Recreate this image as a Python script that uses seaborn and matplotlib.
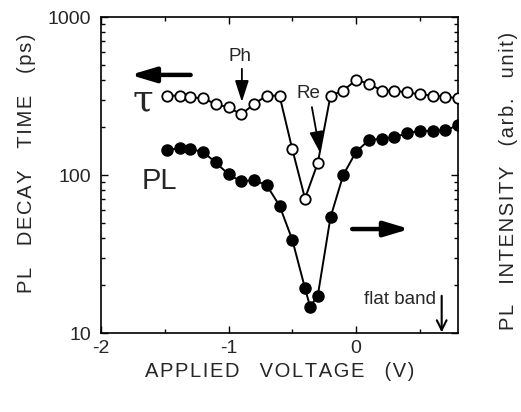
import matplotlib
matplotlib.use("Agg")
import matplotlib.pyplot as plt
import seaborn as sns
import numpy as np
import pandas as pd
from matplotlib.ticker import FixedLocator, LogLocator, NullFormatter

# ---- data ----
volt_tau = [-1.48, -1.38, -1.3, -1.2, -1.1, -1.0, -0.9, -0.8, -0.7, -0.6, -0.5, -0.4,
            -0.3, -0.2, -0.1, 0.0, 0.1, 0.2, 0.3, 0.4, 0.5, 0.6, 0.7, 0.8]
tau_ps = [318, 318, 310, 306, 281, 268, 242, 281, 318, 318, 146, 71,
          119, 318, 342, 399, 379, 342, 342, 333, 324, 318, 313, 306]

volt_pl = [-1.48, -1.38, -1.3, -1.2, -1.1, -1.0, -0.9, -0.8, -0.7, -0.6, -0.5, -0.4, -0.36,
           -0.3, -0.2, -0.1, 0.0, 0.1, 0.2, 0.3, 0.4, 0.5, 0.6, 0.7, 0.8]
pl_int = [143, 149, 146, 140, 120, 101, 91, 93, 86, 64, 39, 19.2, 14.7,
          17.2, 54, 100, 140, 166, 170, 173, 184, 190, 190, 192, 206]

x_major = [-2, -1, 0]
x_ticklabels = ["-2", "-1", "0"]
x_minor = [-1.5, -0.5, 0.5]
y_ticks = [10, 100, 1000]
y_ticklabels = ["10", "100", "1000"]

x_title = "APPLIED VOLTAGE (V)"
y_title = "PL DECAY TIME (ps)"
y2_title = "PL INTENSITY (arb. unit)"


def tracked(s, gap="\u200a", word="\u2003"):
    """Slightly letter-spaced text, as in the original figure."""
    return word.join(gap.join(w) for w in s.split(" "))


sns.set_style("ticks")
plt.rcParams['font.family'] = ['Liberation Sans', 'DejaVu Sans']

fig = plt.figure(figsize=(5.21, 4.12), dpi=100)
ax = fig.add_axes([101/521, 1-333/412, (458-101)/521, (333-17)/412])

df_tau = pd.DataFrame({"V": volt_tau, "val": tau_ps})
df_pl = pd.DataFrame({"V": volt_pl, "val": pl_int})

sns.lineplot(data=df_pl, x="V", y="val", ax=ax, color="black", lw=1.4,
             marker="o", markersize=8, markerfacecolor="black",
             markeredgecolor="black", markeredgewidth=1.0, zorder=3)
sns.lineplot(data=df_tau, x="V", y="val", ax=ax, color="black", lw=1.4,
             marker="o", markersize=7.5, markerfacecolor="white",
             markeredgecolor="black", markeredgewidth=1.3, zorder=4)

ax.set_yscale("log")
ax.set_xlim(-2, 0.8)
ax.set_ylim(10, 1000)
ax.set_yticks(y_ticks)
ax.set_yticklabels(y_ticklabels)
ax.yaxis.set_minor_locator(LogLocator(base=10, subs=np.arange(2, 10)))
ax.yaxis.set_minor_formatter(NullFormatter())
ax.xaxis.set_major_locator(FixedLocator(x_major))
ax.set_xticklabels(x_ticklabels)
ax.xaxis.set_minor_locator(FixedLocator(x_minor))

for s in ax.spines.values():
    s.set_linewidth(1.2)
    s.set_color("black")
ax.tick_params(which="both", direction="in", top=True, right=True,
               labelsize=14, color="black", width=1.0)
ax.tick_params(which="major", length=5, pad=5)
ax.tick_params(axis="y", which="major", pad=7)
ax.tick_params(which="minor", length=3)

ax.set_xlabel(tracked(x_title), fontsize=14.5)
ax.xaxis.set_label_coords(0.5, -0.092)
ax.xaxis.label.set_va("top")
ax.set_ylabel(tracked(y_title, word="\u2003\u200a"), fontsize=14.5)
ax.yaxis.set_label_coords(-(101-27)/357, (333-163)/316)
ax.yaxis.label.set_va("center")
fig.text(508/521, 1-181/412, tracked(y2_title), rotation=90,
         ha="center", va="center", fontsize=14.5)

# annotations
big = "-|>,head_length=1.5,head_width=0.45"
ax.annotate("", xy=(-1.77, 430), xytext=(-1.297, 430),
            arrowprops=dict(arrowstyle=big, color="black", lw=3.2,
                            shrinkA=0, shrinkB=0))
ax.annotate("", xy=(0.42, 45.5), xytext=(-0.03, 45.5),
            arrowprops=dict(arrowstyle=big, color="black", lw=3.2,
                            shrinkA=0, shrinkB=0))
ax.text(-1.674, 298, "τ", fontsize=27, family="DejaVu Serif",
        ha="center", va="center")
ax.text(-1.543, 92, "PL", fontsize=21, ha="center", va="center")

small = "-|>,head_length=1.3,head_width=0.42"
ax.text(-0.906, 560, "Ph", fontsize=13.5, ha="center", va="center")
ax.annotate("", xy=(-0.895, 290), xytext=(-0.895, 470),
            arrowprops=dict(arrowstyle=small, color="black", lw=1.3,
                            shrinkA=0, shrinkB=0))
ax.text(-0.371, 326, "Re", fontsize=13.5, ha="center", va="center")
ax.annotate("", xy=(-0.281, 138), xytext=(-0.346, 269),
            arrowprops=dict(arrowstyle=small, color="black", lw=1.3,
                            shrinkA=0, shrinkB=0))
ax.text(0.63, 16.2, "flat band", fontsize=13.5, ha="right", va="center")
ax.annotate("", xy=(0.672, 10.1), xytext=(0.672, 17.2),
            arrowprops=dict(arrowstyle="->,head_length=0.7,head_width=0.35",
                            color="black", lw=1.5, shrinkA=0, shrinkB=0))

fig.savefig("out.png", dpi=100)
